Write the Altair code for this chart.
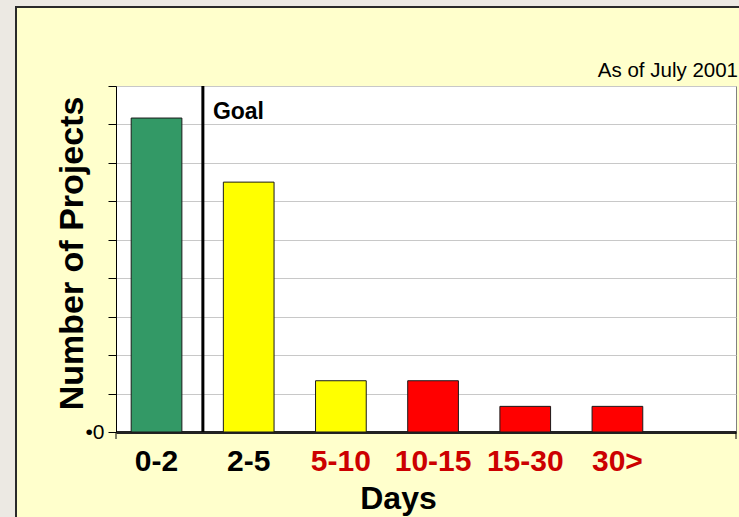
import altair as alt
import pandas as pd

# Turnaround-time buckets and project counts
categories = ["0-2", "2-5", "5-10", "10-15", "15-30", "30>"]
projects = [49, 39, 8, 8, 4, 4]
status = ["green", "yellow", "yellow", "red", "red", "red"]
on_target = ["0-2", "2-5"]
y_ticks = [0, 6, 12, 18, 24, 30, 36, 42, 48, 54]

df = pd.DataFrame({"days": categories, "projects": projects, "status": status})
goal_df = pd.DataFrame({"days": ["0-2"], "label": ["Goal"]})
one = pd.DataFrame({"k": [0]})

W, H = 620, 346
FONT = "Liberation Sans"

# Bands sit toward the left, leaving empty room at the right of the plot
x_scale = alt.Scale(domain=categories, paddingInner=0.45,
                    paddingOuter=0.588, align=0.14)
y_scale = alt.Scale(domain=[0, 54], nice=False)

on_target_expr = " || ".join(f"datum.value == '{c}'" for c in on_target)

bars = alt.Chart(df).mark_bar(stroke="#1a1a1a", strokeWidth=1).encode(
    x=alt.X("days:N", scale=x_scale, sort=categories,
            axis=alt.Axis(title="Days", titleFont=FONT, titleFontSize=32,
                          titleFontWeight="bold", titleColor="black",
                          titleX=282, titleY=51, titleBaseline="top",
                          titleAlign="center",
                          labelFont=FONT, labelFontSize=30, labelFontWeight="bold",
                          labelColor=alt.expr(f"({on_target_expr}) ? 'black' : '#CC0000'"),
                          labelPadding=14, labelAngle=0, ticks=False,
                          domainColor="#222222", domainWidth=3, grid=False)),
    y=alt.Y("projects:Q", scale=y_scale,
            axis=alt.Axis(title="Number of Projects", titleFont=FONT,
                          titleFontSize=34, titleFontWeight="bold",
                          titleColor="black", titleAngle=270,
                          titleX=-34, titleY=167, titleAlign="center",
                          titleBaseline="alphabetic",
                          values=y_ticks,
                          labelExpr="datum.value == 0 ? '\u20220' : ''",
                          labelFont=FONT, labelFontSize=21, labelColor="black",
                          labelPadding=4, tickSize=8, tickColor="black",
                          domainColor="black", gridColor="#C8C8C8")),
    color=alt.Color("status:N",
                    scale=alt.Scale(domain=["green", "yellow", "red"],
                                    range=["#339966", "#FFFF00", "#FF0000"]),
                    legend=None),
)

# Goal marker in the gap after the first bucket
goal_line = alt.Chart(goal_df).mark_rule(color="black", strokeWidth=3, xOffset=21).encode(
    x=alt.X("days:N", scale=x_scale, sort=categories, bandPosition=1),
    y=alt.value(0), y2=alt.value(H),
)
goal_text = alt.Chart(goal_df).mark_text(
    font=FONT, fontSize=23, fontWeight="bold", color="black",
    align="left", baseline="alphabetic", dx=31,
).encode(
    x=alt.X("days:N", scale=x_scale, sort=categories, bandPosition=1),
    y=alt.value(33), text="label:N",
)

as_of = alt.Chart(one).mark_text(
    text="As of July 2001", font=FONT, fontSize=20.5, color="black",
    align="right", baseline="alphabetic",
).encode(x=alt.value(622), y=alt.value(-9))

# Small ticks below the axis at both ends of the category axis
left_tick = alt.Chart(one).mark_rule(color="black", strokeWidth=1).encode(
    x=alt.value(0), y=alt.value(H), y2=alt.value(H + 7))
right_tick = alt.Chart(one).mark_rule(color="black", strokeWidth=1).encode(
    x=alt.value(W), y=alt.value(H), y2=alt.value(H + 7))

# Window frame around the slide panel
top_strip = alt.Chart(one).mark_rect(color="#ECE9E3").encode(
    x=alt.value(-116), x2=alt.value(623), y=alt.value(-86), y2=alt.value(-80))
left_strip = alt.Chart(one).mark_rect(color="#ECE9E3").encode(
    x=alt.value(-116), x2=alt.value(-101), y=alt.value(-86), y2=alt.value(431))
top_edge = alt.Chart(one).mark_rule(color="#2a2a2a", strokeWidth=2).encode(
    x=alt.value(-101), x2=alt.value(623), y=alt.value(-79))
left_edge = alt.Chart(one).mark_rule(color="#2a2a2a", strokeWidth=2).encode(
    x=alt.value(-100), y=alt.value(-80), y2=alt.value(431))

chart = alt.layer(
    top_strip, left_strip, top_edge, left_edge,
    bars, goal_line, goal_text, as_of, left_tick, right_tick,
).properties(
    width=W, height=H,
    background="#FFFFCC",
    autosize=alt.AutoSizeParams(type="none"),
    padding={"left": 116, "top": 86, "right": 3, "bottom": 85},
).configure_view(
    fill="white", stroke="#808080", strokeWidth=1,
)

chart.save("out.html", embed_options={"renderer": "svg", "actions": False})
